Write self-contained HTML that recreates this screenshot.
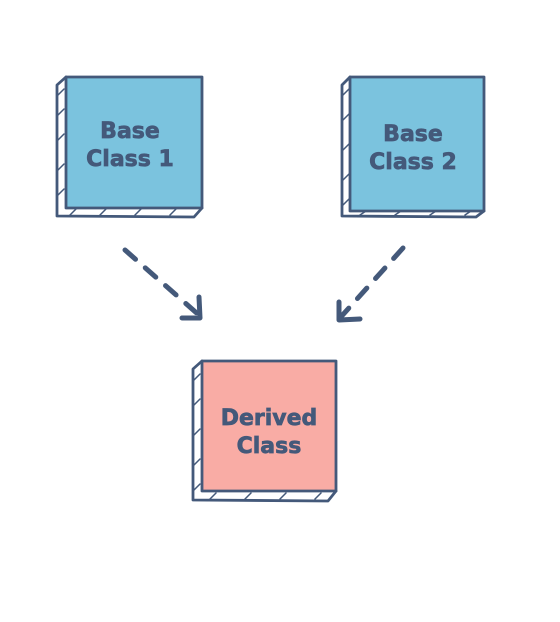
<!DOCTYPE html>
<html><head><style>body{margin:0;background:#fff}svg{display:block}</style></head><body>
<svg width="560" height="622" viewBox="0 0 560 622" xmlns="http://www.w3.org/2000/svg">
<g stroke="#44597a" stroke-width="2.8" stroke-linejoin="round" stroke-linecap="round">
  <!-- Box 1 -->
  <path d="M66,77 L57,85 L57,216 L194,217 L202,208" fill="#fff"/>
  <rect x="66" y="77" width="136" height="131" fill="#7bc3de"/>
  <path d="M58,95 L64,89 M58,115 L64,109 M58,140 L64,134 M58,170 L64,164 M58,195 L64,189 M70,215 L76,209 M100,215 L106,209 M135,215 L141,209 M170,215 L176,209" stroke-width="1.5" fill="none"/>
  <!-- Box 2 -->
  <path d="M350,77 L342,85 L342,216 L476,217 L484,211" fill="#fff"/>
  <rect x="350" y="77" width="134" height="134" fill="#7bc3de"/>
  <path d="M343,95 L349,89 M343,120 L349,114 M343,150 L349,144 M343,180 L349,174 M343,205 L349,199 M360,215 L366,211 M395,215 L401,211 M430,215 L436,211 M465,215 L471,211" stroke-width="1.5" fill="none"/>
  <!-- Derived -->
  <path d="M202,361 L193,369 L193,500 L328,501 L336,491" fill="#fff"/>
  <rect x="202" y="361" width="134" height="130" fill="#f9aca5"/>
  <path d="M194,380 L200,374 M194,405 L200,399 M194,435 L200,429 M194,465 L200,459 M194,490 L200,484 M210,499 L216,493 M245,499 L251,493 M280,499 L286,493 M315,499 L321,493" stroke-width="1.5" fill="none"/>
  <!-- arrows -->
  <g stroke-width="5" fill="none">
    <path d="M125,250 L200,316" stroke-dasharray="14,13"/>
    <path d="M199,297 L200,318 L182,318"/>
    <path d="M403,248 L339,319" stroke-dasharray="14,13"/>
    <path d="M339,302 L339,320 L360,319"/>
  </g>
</g>
<g font-family="DejaVu Sans, sans-serif" font-weight="bold" font-size="22" fill="#44597a" stroke="#44597a" stroke-width="0.7" text-anchor="middle">
  <text x="130" y="138">Base</text>
  <text x="130" y="166">Class 1</text>
  <text x="413" y="141">Base</text>
  <text x="413" y="169">Class 2</text>
  <text x="269" y="425">Derived</text>
  <text x="269" y="453">Class</text>
</g>
</svg>
</body></html>
